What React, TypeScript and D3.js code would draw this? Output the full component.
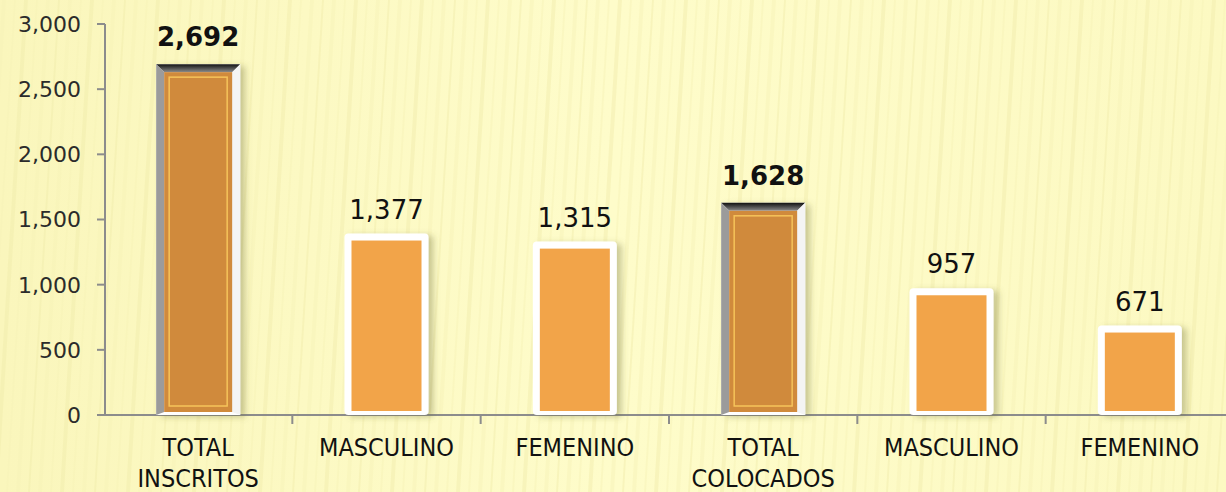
import React from "react";
import * as d3 from "d3";

const categories = ["TOTAL INSCRITOS", "MASCULINO", "FEMENINO", "TOTAL COLOCADOS", "MASCULINO", "FEMENINO"];
const labelLines = [["TOTAL", "INSCRITOS"], ["MASCULINO"], ["FEMENINO"], ["TOTAL", "COLOCADOS"], ["MASCULINO"], ["FEMENINO"]];
const values = [2692, 1377, 1315, 1628, 957, 671];
const isTotal = [true, false, false, true, false, false];
const yTicks = [0, 500, 1000, 1500, 2000, 2500, 3000];

const W = 1226, H = 492;
const fmt = d3.format(",");

export default function App() {
  const x = d3.scaleBand<number>().domain(d3.range(categories.length)).range([104, 1234]).paddingInner(0.554).paddingOuter(0.277);
  const band = d3.scaleBand<number>().domain(d3.range(categories.length)).range([104, 1234]);
  const y = d3.scaleLinear().domain([0, 3000]).range([415, 24]);
  const bw = x.bandwidth();
  const stripes = d3.range(-40, 1300, 11);
  return (
    <svg width={W} height={H} style={{ position: "absolute", left: 0, top: 0 }}>
      <defs>
        <filter id="sh" x="-20%" y="-20%" width="150%" height="140%">
          <feDropShadow dx="5" dy="2" stdDeviation="3" floodColor="#6b6b30" floodOpacity="0.35" />
        </filter>
        <linearGradient id="topbev" x1="0" y1="0" x2="0" y2="1">
          <stop offset="0" stopColor="#111" />
          <stop offset="1" stopColor="#8a8a8a" />
        </linearGradient>
        <linearGradient id="bg" x1="0" y1="0" x2="1" y2="0">
          <stop offset="0" stopColor="#faf6bc" />
          <stop offset="0.5" stopColor="#fefcca" />
          <stop offset="1" stopColor="#fcf9c2" />
        </linearGradient>
      </defs>
      <rect x={0} y={0} width={W} height={H} fill="url(#bg)" />
      {stripes.map((s, i) => (
        <line key={i} x1={s} y1={0} x2={s - 30} y2={H} stroke={i % 3 === 0 ? "#f1ecac" : "#f7f3b8"} strokeWidth={i % 2 ? 2 : 4} opacity={0.45} />
      ))}
      {/* axes */}
      <line x1={105} y1={y(3000)} x2={105} y2={y(0)} stroke="#8c8c8c" strokeWidth={2} />
      <line x1={97} y1={y(0)} x2={W} y2={y(0)} stroke="#8c8c8c" strokeWidth={2} />
      {yTicks.map((t) => (
        <g key={t}>
          <line x1={97} x2={105} y1={y(t)} y2={y(t)} stroke="#8c8c8c" strokeWidth={2} />
          <text x={81} y={y(t)} dy="0.36em" textAnchor="end" fontFamily="DejaVu Sans" fontSize={22} fill="#2b2b2b">{fmt(t)}</text>
        </g>
      ))}
      {d3.range(1, categories.length).map((i) => (
        <line key={i} x1={band(i)!} x2={band(i)!} y1={y(0)} y2={y(0) + 9} stroke="#8c8c8c" strokeWidth={2} />
      ))}
      {values.map((v, i) => {
        const x0 = x(i)!;
        const top = y(v);
        const base = y(0);
        const h = base - top;
        if (isTotal[i]) {
          const b = 8;
          return (
            <g key={i}>
              <g filter="url(#sh)">
                <rect x={x0} y={top} width={bw} height={h} fill="#ffffff" />
              </g>
              <polygon points={`${x0},${top} ${x0 + bw},${top} ${x0 + bw - b},${top + b} ${x0 + b},${top + b}`} fill="url(#topbev)" />
              <polygon points={`${x0},${top} ${x0 + b},${top + b} ${x0 + b},${base - 3} ${x0},${base}`} fill="#9b9b9b" />
              <polygon points={`${x0 + bw},${top} ${x0 + bw},${base} ${x0 + bw - b},${base - 3} ${x0 + bw - b},${top + b}`} fill="#f4f4f4" />
              <rect x={x0 + b} y={top + b} width={bw - 2 * b} height={h - b - 3} fill="#d08a3c" />
              <rect x={x0 + b + 5} y={top + b + 5} width={bw - 2 * b - 10} height={h - b - 14} fill="none" stroke="#f6c35a" strokeWidth={1.5} />
              <text x={x0 + bw / 2} y={top - 18} textAnchor="middle" fontFamily="DejaVu Sans" fontWeight="bold" fontSize={26} fill="#111">{fmt(v)}</text>
            </g>
          );
        }
        return (
          <g key={i}>
            <g filter="url(#sh)">
              <rect x={x0} y={top - 2} width={bw} height={h + 2} rx={4} fill="#ffffff" />
            </g>
            <rect x={x0 + 7} y={top + 5} width={bw - 14} height={h - 9} fill="#f2a449" />
            <text x={x0 + bw / 2} y={top - 17} textAnchor="middle" fontFamily="DejaVu Sans" fontSize={26} fill="#111">{fmt(v)}</text>
          </g>
        );
      })}
      {labelLines.map((lines, i) => (
        <text key={i} textAnchor="middle" fontFamily="'Liberation Sans Narrow', 'DejaVu Sans Condensed', sans-serif" fontSize={25} fill="#111">
          {lines.map((l, j) => (
            <tspan key={j} x={band(i)! + band.bandwidth() / 2} y={456 + j * 31}>{l}</tspan>
          ))}
        </text>
      ))}
    </svg>
  );
}
